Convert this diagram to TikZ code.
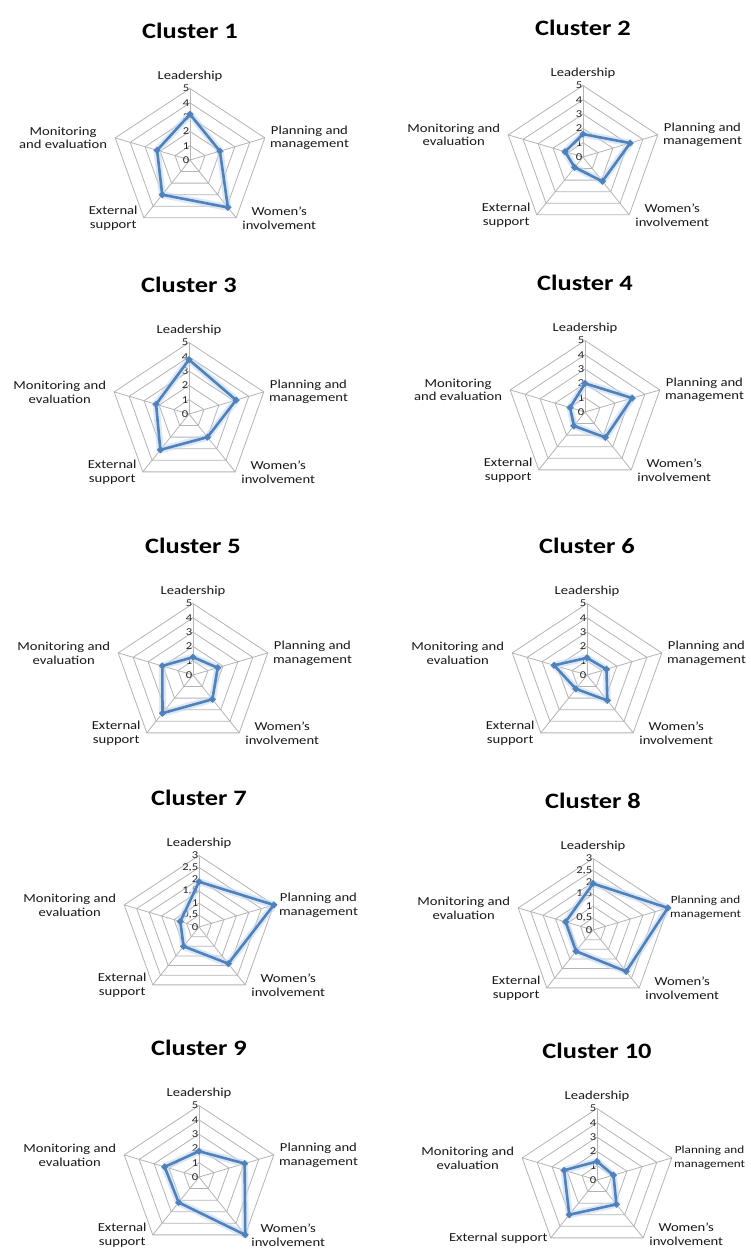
\documentclass[tikz,border=0pt]{standalone}
\usepackage{fontspec}
\setmainfont{Carlito}[FakeStretch=1.2]
\usetikzlibrary{positioning}
\definecolor{seriesblue}{RGB}{79,129,189}
\definecolor{glowblue}{RGB}{198,217,241}
\definecolor{gridgray}{RGB}{180,180,180}
\newcommand{\chartr}{71.5}
\newcommand{\radar}[6]{%
\begin{scope}[shift={(#2)},xscale=1.1]
 \foreach \k in {1,...,#3}
  \draw[gridline](90:\k*\chartr/#3)--(18:\k*\chartr/#3)--(-54:\k*\chartr/#3)--(-126:\k*\chartr/#3)--(162:\k*\chartr/#3)--cycle;
 \foreach \a/\s in {90/L,18/P,-54/W,-126/E,162/M}
  \draw[gridline](0,0)--(\a:\chartr) coordinate (#1-\s);
 \foreach \t [count=\i from 0] in {#5}
  \node[ticklbl] (#1-tick\i) at (-0.5,\i*\chartr/#3) {\t};
 \foreach \vl/\vp/\vw/\ve/\vm in {#6}{
  \draw[glow](90:\vl*\chartr/#4)--(18:\vp*\chartr/#4)--(-54:\vw*\chartr/#4)--(-126:\ve*\chartr/#4)--(162:\vm*\chartr/#4)--cycle;
  \draw[series](90:\vl*\chartr/#4)--(18:\vp*\chartr/#4)--(-54:\vw*\chartr/#4)--(-126:\ve*\chartr/#4)--(162:\vm*\chartr/#4)--cycle;
  \foreach \a/\v in {90/\vl,18/\vp,-54/\vw,-126/\ve,162/\vm}
   \fill[seriesblue](\a:\v*\chartr/#4)+(0,3.6)--+(3.3,0)--+(0,-3.6)--+(-3.3,0)--cycle;
 }
\end{scope}}
\begin{document}
\begin{tikzpicture}[x=1pt,y=1pt,
 gridline/.style={gridgray,line width=0.8pt},
 glow/.style={glowblue,line width=7pt,line join=round,opacity=0.6},
 series/.style={seriesblue,line width=2.6pt,line join=round},
 ticklbl/.style={anchor=east,inner sep=0pt,font=\fontsize{10.5}{11}\selectfont,text=black!85},
 axlbl/.style={inner sep=0pt,align=center,font=\fontsize{12.2}{13.8}\selectfont,text=black!90},
 edgelbl/.style={axlbl,font=\fontsize{11}{13.8}\selectfont},
 ttl/.style={inner sep=0pt,font=\fontsize{22}{26}\selectfont\bfseries}]
\fill[white](0,0) rectangle (750,-1250);
\useasboundingbox (0,0) rectangle (750,-1250);

\radar{c1}{190,-160}{5}{5}{0,1,2,3,4,5}{3.2/2.0/4.1/3.0/2.2}
\node[axlbl,above=7pt of c1-L] (c1-lead) {Leadership};
\node[axlbl,right=5pt of c1-P] (c1-plan) {Planning and\\management};
\node[axlbl,right=6pt of c1-W] (c1-wom) {Women's\\involvement};
\node[axlbl,left=6pt of c1-E] (c1-ext) {External\\support};
\node[axlbl,left=8pt of c1-M] (c1-mon) {Monitoring\\and evaluation};
\node[ttl,above=32pt of c1-lead] (c1-title) {Cluster 1};

\radar{c2}{583,-157}{5}{5}{0,1,2,3,4,5}{1.6/3.15/2.1/0.9/1.2}
\node[axlbl,above=7pt of c2-L] (c2-lead) {Leadership};
\node[axlbl,right=5pt of c2-P] (c2-plan) {Planning and\\management};
\node[axlbl,right=6pt of c2-W] (c2-wom) {Women's\\involvement};
\node[axlbl,left=6pt of c2-E] (c2-ext) {External\\support};
\node[axlbl,left=8pt of c2-M] (c2-mon) {Monitoring and\\evaluation};
\node[ttl,above=32pt of c2-lead] (c2-title) {Cluster 2};

\radar{c3}{189,-414}{5}{5}{0,1,2,3,4,5}{3.8/3.15/2.0/3.1/2.2}
\node[axlbl,above=7pt of c3-L] (c3-lead) {Leadership};
\node[axlbl,right=5pt of c3-P] (c3-plan) {Planning and\\management};
\node[axlbl,right=6pt of c3-W] (c3-wom) {Women's\\involvement};
\node[axlbl,left=6pt of c3-E] (c3-ext) {External\\support};
\node[axlbl,left=8pt of c3-M] (c3-mon) {Monitoring and\\evaluation};
\node[ttl,above=32pt of c3-lead] (c3-title) {Cluster 3};

\radar{c4}{585,-412}{5}{5}{0,1,2,3,4,5}{2.0/3.15/2.2/1.2/1.0}
\node[axlbl,above=7pt of c4-L] (c4-lead) {Leadership};
\node[axlbl,right=5pt of c4-P] (c4-plan) {Planning and\\management};
\node[axlbl,right=6pt of c4-W] (c4-wom) {Women's\\involvement};
\node[axlbl,left=6pt of c4-E] (c4-ext) {External\\support};
\node[axlbl,left=8pt of c4-M] (c4-mon) {Monitoring\\and evaluation};
\node[ttl,above=32pt of c4-lead] (c4-title) {Cluster 4};

\radar{c5}{193,-675}{5}{5}{0,1,2,3,4,5}{1.25/1.65/2.1/3.3/2.05}
\node[axlbl,above=7pt of c5-L] (c5-lead) {Leadership};
\node[axlbl,right=5pt of c5-P] (c5-plan) {Planning and\\management};
\node[axlbl,right=6pt of c5-W] (c5-wom) {Women's\\involvement};
\node[axlbl,left=6pt of c5-E] (c5-ext) {External\\support};
\node[axlbl,left=8pt of c5-M] (c5-mon) {Monitoring and\\evaluation};
\node[ttl,above=32pt of c5-lead] (c5-title) {Cluster 5};

\radar{c6}{587,-675}{5}{5}{0,1,2,3,4,5}{1.2/1.3/2.2/1.2/2.2}
\node[axlbl,above=7pt of c6-L] (c6-lead) {Leadership};
\node[axlbl,right=5pt of c6-P] (c6-plan) {Planning and\\management};
\node[axlbl,right=6pt of c6-W] (c6-wom) {Women's\\involvement};
\node[axlbl,left=6pt of c6-E] (c6-ext) {External\\support};
\node[axlbl,left=8pt of c6-M] (c6-mon) {Monitoring and\\evaluation};
\node[ttl,above=32pt of c6-lead] (c6-title) {Cluster 6};

\radar{c7}{199,-927}{6}{3}{0,{0,5},1,{1,5},2,{2,5},3}{1.9/3.0/1.9/1.0/0.75}
\node[axlbl,above=7pt of c7-L] (c7-lead) {Leadership};
\node[axlbl,right=5pt of c7-P] (c7-plan) {Planning and\\management};
\node[axlbl,right=6pt of c7-W] (c7-wom) {Women's\\involvement};
\node[axlbl,left=6pt of c7-E] (c7-ext) {External\\support};
\node[axlbl,left=8pt of c7-M] (c7-mon) {Monitoring and\\evaluation};
\node[ttl,above=32pt of c7-lead] (c7-title) {Cluster 7};

\radar{c8}{593,-930}{6}{3}{0,{0,5},1,{1,5},2,{2,5},3}{1.95/3.0/2.15/1.1/1.1}
\node[axlbl,above=7pt of c8-L] (c8-lead) {Leadership};
\node[edgelbl,right=2pt of c8-P] (c8-plan) {Planning and\\management};
\node[axlbl,right=6pt of c8-W] (c8-wom) {Women's\\involvement};
\node[axlbl,left=6pt of c8-E] (c8-ext) {External\\support};
\node[axlbl,left=8pt of c8-M] (c8-mon) {Monitoring and\\evaluation};
\node[ttl,above=32pt of c8-lead] (c8-title) {Cluster 8};

\radar{c9}{199,-1177}{5}{5}{0,1,2,3,4,5}{1.8/3.05/5.0/2.2/2.3}
\node[axlbl,above=7pt of c9-L] (c9-lead) {Leadership};
\node[axlbl,right=5pt of c9-P] (c9-plan) {Planning and\\management};
\node[axlbl,right=6pt of c9-W] (c9-wom) {Women's\\involvement};
\node[axlbl,left=6pt of c9-E] (c9-ext) {External\\support};
\node[axlbl,left=8pt of c9-M] (c9-mon) {Monitoring and\\evaluation};
\node[ttl,above=32pt of c9-lead] (c9-title) {Cluster 9};

\radar{c10}{597,-1180}{5}{5}{0,1,2,3,4,5}{1.3/1.1/2.1/3.0/2.2}
\node[axlbl,above=7pt of c10-L] (c10-lead) {Leadership};
\node[edgelbl,right=2pt of c10-P] (c10-plan) {Planning and\\management};
\node[axlbl,right=6pt of c10-W,yshift=4pt] (c10-wom) {Women's\\involvement};
\node[axlbl,left=3pt of c10-E] (c10-ext) {External support};
\node[axlbl,left=8pt of c10-M] (c10-mon) {Monitoring and\\evaluation};
\node[ttl,above=32pt of c10-lead] (c10-title) {Cluster 10};
\end{tikzpicture}
\end{document}
